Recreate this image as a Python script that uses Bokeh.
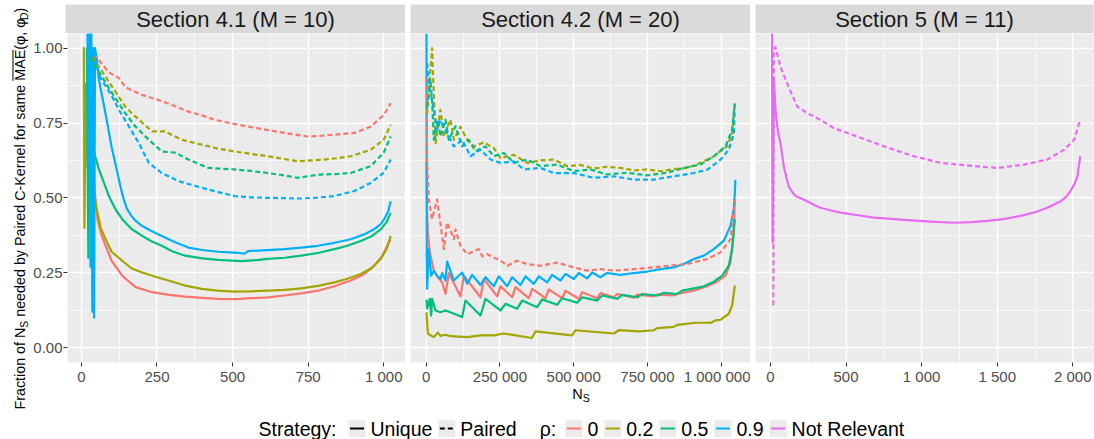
import math
from bokeh.plotting import figure
from bokeh.layouts import row, column
from bokeh.models import Range1d, FixedTicker, ColumnDataSource
from bokeh.core.properties import value
from bokeh.embed import file_html
from bokeh.resources import INLINE

# ------------------------------------------------------------------ data
rho_levels = ["0", "0.2", "0.5", "0.9", "Not Relevant"]
rho_colors = ["#F8766D", "#A3A500", "#00BF7D", "#00B0F6", "#E76BF3"]
strategies = ["Unique", "Paired"]
strategy_dash = ["solid", "5 3"]
section_titles = ["Section 4.1 (M = 10)", "Section 4.2 (M = 20)", "Section 5 (M = 11)"]

y_ticks = [0.0, 0.25, 0.5, 0.75, 1.0]
y_tick_labels = ["0.00", "0.25", "0.50", "0.75", "1.00"]

s41_ticks = [0, 250, 500, 750, 1000]
s41_tick_labels = ["0", "250", "500", "750", "1 000"]
s42_ticks = [0, 250000, 500000, 750000, 1000000]
s42_tick_labels = ["0", "250 000", "500 000", "750 000", "1 000 000"]
s5_ticks = [0, 500, 1000, 1500, 2000]
s5_tick_labels = ["0", "500", "1 000", "1 500", "2 000"]

# Section 4.1 (M = 10)
s41_unique_r0_x = [38, 46, 53, 65, 80, 100, 135, 179, 234, 290, 343, 400, 453, 510, 562, 617, 672, 727, 782, 837, 891, 935, 968, 995, 1017, 1023]
s41_unique_r0_y = [0.60, 0.50, 0.429, 0.38, 0.34, 0.29, 0.24, 0.202, 0.185, 0.176, 0.170, 0.166, 0.163, 0.162, 0.165, 0.168, 0.174, 0.181, 0.190, 0.205, 0.224, 0.245, 0.273, 0.305, 0.351, 0.362]
s41_unique_r02_x = [4, 8, 10, 14, 20, 28, 36, 44, 53, 64, 80, 100, 135, 165, 201, 250, 288, 340, 398, 450, 507, 560, 617, 672, 727, 782, 837, 880, 924, 960, 990, 1010, 1023]
s41_unique_r02_y = [1.0, 1.0, 0.40, 0.88, 0.60, 0.75, 0.52, 0.50, 0.451, 0.40, 0.362, 0.32, 0.29, 0.265, 0.251, 0.235, 0.224, 0.208, 0.196, 0.190, 0.187, 0.188, 0.190, 0.193, 0.198, 0.206, 0.218, 0.230, 0.246, 0.266, 0.296, 0.330, 0.373]
s41_unique_r05_x = [18, 23, 26, 30, 36, 58, 91, 96, 115, 135, 165, 201, 230, 266, 300, 343, 400, 453, 530, 580, 617, 672, 727, 782, 837, 880, 924, 960, 990, 1010, 1023]
s41_unique_r05_y = [1.0, 0.30, 1.0, 0.85, 0.672, 0.595, 0.506, 0.495, 0.458, 0.429, 0.397, 0.373, 0.356, 0.340, 0.322, 0.307, 0.298, 0.293, 0.289, 0.292, 0.296, 0.300, 0.307, 0.316, 0.329, 0.340, 0.356, 0.372, 0.395, 0.420, 0.450]
s41_unique_r09_x = [20, 24, 27, 30, 33, 36, 39, 42, 45, 50, 58, 80, 100, 120, 130, 140, 150, 165, 180, 201, 230, 266, 310, 354, 400, 453, 520, 540, 551, 600, 672, 727, 782, 837, 891, 935, 968, 990, 1001, 1015, 1023]
s41_unique_r09_y = [1.05, 0.60, 1.05, 0.27, 1.05, 0.12, 1.0, 0.10, 1.0, 0.97, 0.894, 0.78, 0.67, 0.58, 0.535, 0.495, 0.465, 0.440, 0.423, 0.406, 0.390, 0.373, 0.352, 0.334, 0.326, 0.320, 0.316, 0.314, 0.322, 0.325, 0.329, 0.334, 0.340, 0.350, 0.362, 0.378, 0.395, 0.412, 0.428, 0.455, 0.489]
s41_paired_r0_x = [40, 58, 90, 124, 145, 200, 255, 300, 354, 400, 441, 500, 574, 620, 672, 749, 800, 836, 903, 957, 1000, 1023]
s41_paired_r0_y = [0.98, 0.96, 0.92, 0.90, 0.87, 0.844, 0.827, 0.81, 0.788, 0.775, 0.761, 0.748, 0.734, 0.726, 0.717, 0.705, 0.708, 0.711, 0.717, 0.738, 0.777, 0.816]
s41_paired_r02_x = [35, 58, 102, 145, 178, 234, 277, 332, 398, 450, 507, 560, 617, 670, 716, 760, 803, 850, 891, 957, 1000, 1023]
s41_paired_r02_y = [0.97, 0.938, 0.871, 0.805, 0.772, 0.722, 0.722, 0.694, 0.678, 0.665, 0.655, 0.647, 0.639, 0.630, 0.622, 0.625, 0.628, 0.633, 0.639, 0.661, 0.694, 0.744]
s41_paired_r05_x = [30, 58, 102, 145, 178, 223, 266, 310, 354, 420, 507, 560, 617, 670, 716, 760, 790, 850, 891, 957, 1000, 1023]
s41_paired_r05_y = [0.97, 0.921, 0.849, 0.783, 0.739, 0.694, 0.655, 0.651, 0.628, 0.600, 0.595, 0.590, 0.583, 0.575, 0.567, 0.574, 0.578, 0.580, 0.583, 0.606, 0.651, 0.705]
s41_paired_r09_x = [20, 30, 45, 58, 102, 124, 157, 190, 223, 266, 321, 398, 450, 507, 560, 617, 672, 727, 780, 836, 903, 957, 1000, 1023]
s41_paired_r09_y = [1.0, 1.0, 0.97, 0.91, 0.838, 0.794, 0.739, 0.683, 0.617, 0.583, 0.556, 0.534, 0.520, 0.506, 0.502, 0.500, 0.499, 0.498, 0.501, 0.506, 0.523, 0.550, 0.584, 0.628]

# Section 4.2 (M = 20)
s42_unique_r0_x = [1000, 3000, 5500, 12300, 25900, 39400, 54100, 65400, 76700, 116300, 127600, 184100, 195400, 240600, 251900, 291400, 302700, 347900, 359200, 404400, 415700, 460900, 472200, 517400, 528700, 579600, 590800, 636000, 647400, 703800, 715100, 771600, 782900, 839400, 850800, 907200, 952400, 986300, 1014600, 1031500, 1042800, 1046200]
s42_unique_r0_y = [0.62, 0.45, 0.384, 0.318, 0.257, 0.235, 0.218, 0.179, 0.249, 0.171, 0.240, 0.168, 0.229, 0.171, 0.205, 0.168, 0.202, 0.165, 0.196, 0.165, 0.194, 0.165, 0.190, 0.163, 0.185, 0.165, 0.182, 0.168, 0.179, 0.167, 0.177, 0.171, 0.177, 0.174, 0.179, 0.190, 0.205, 0.220, 0.240, 0.285, 0.384, 0.495]
s42_unique_r02_x = [1000, 5500, 14600, 25900, 39400, 48500, 65400, 82400, 138900, 184100, 229300, 263200, 358100, 370600, 494800, 506100, 636000, 653000, 720800, 771600, 783000, 839400, 850800, 913900, 964700, 981600, 998600, 1025800, 1037100, 1046200]
s42_unique_r02_y = [0.118, 0.047, 0.041, 0.035, 0.050, 0.039, 0.043, 0.038, 0.035, 0.041, 0.041, 0.047, 0.032, 0.054, 0.041, 0.058, 0.047, 0.058, 0.054, 0.058, 0.065, 0.069, 0.076, 0.083, 0.083, 0.091, 0.093, 0.113, 0.141, 0.207]
s42_unique_r05_x = [1000, 3300, 12300, 16800, 20200, 31500, 48500, 65400, 82400, 121900, 133200, 184100, 201000, 251900, 268800, 308400, 325300, 376100, 393100, 444000, 460900, 511800, 528700, 579600, 596500, 647400, 664300, 715200, 732100, 783000, 805600, 850800, 867700, 907200, 941100, 975000, 1003200, 1025800, 1037100, 1042800, 1046200]
s42_unique_r05_y = [0.16, 0.130, 0.163, 0.107, 0.163, 0.124, 0.118, 0.124, 0.118, 0.102, 0.157, 0.107, 0.163, 0.124, 0.146, 0.130, 0.157, 0.135, 0.161, 0.143, 0.165, 0.150, 0.168, 0.157, 0.174, 0.163, 0.176, 0.168, 0.179, 0.174, 0.183, 0.179, 0.190, 0.198, 0.205, 0.220, 0.240, 0.274, 0.329, 0.395, 0.429]
s42_unique_r09_x = [1000, 2000, 3300, 8900, 16800, 25900, 37200, 48500, 54100, 65400, 71100, 93700, 121900, 138900, 155800, 184100, 201000, 229300, 246200, 274500, 291400, 319700, 336600, 364900, 381800, 410100, 427000, 455300, 472200, 500500, 517400, 545600, 562600, 590800, 613400, 658600, 703800, 749000, 794200, 839400, 873300, 907200, 941100, 975000, 1008900, 1031500, 1042800, 1046200, 1048000]
s42_unique_r09_y = [1.05, 0.30, 0.196, 0.329, 0.240, 0.257, 0.240, 0.229, 0.249, 0.224, 0.287, 0.224, 0.251, 0.213, 0.243, 0.209, 0.235, 0.205, 0.238, 0.205, 0.235, 0.209, 0.238, 0.213, 0.238, 0.218, 0.243, 0.224, 0.246, 0.229, 0.249, 0.231, 0.251, 0.235, 0.249, 0.243, 0.249, 0.254, 0.262, 0.268, 0.279, 0.296, 0.307, 0.329, 0.357, 0.406, 0.462, 0.517, 0.56]
s42_paired_r0_x = [1000, 3000, 9000, 20000, 37000, 60000, 71000, 94000, 99000, 116000, 139000, 178000, 190000, 207000, 229000, 252000, 275000, 308000, 342000, 387000, 444000, 500000, 546000, 591000, 636000, 704000, 772000, 817000, 885000, 953000, 998000, 1032000, 1046000]
s42_paired_r0_y = [0.90, 0.62, 0.495, 0.429, 0.495, 0.329, 0.418, 0.362, 0.395, 0.340, 0.312, 0.329, 0.305, 0.312, 0.301, 0.290, 0.273, 0.290, 0.279, 0.273, 0.284, 0.268, 0.257, 0.262, 0.257, 0.262, 0.268, 0.273, 0.279, 0.296, 0.318, 0.362, 0.495]
s42_paired_r02_x = [3000, 9000, 20000, 32000, 48000, 60000, 82000, 94000, 116000, 139000, 161000, 195000, 229000, 252000, 297000, 342000, 387000, 433000, 478000, 523000, 568000, 613000, 659000, 704000, 749000, 795000, 840000, 885000, 930000, 975000, 1020000, 1037000, 1046000]
s42_paired_r02_y = [0.78, 0.86, 1.0, 0.683, 0.794, 0.705, 0.761, 0.694, 0.738, 0.694, 0.672, 0.685, 0.667, 0.633, 0.644, 0.617, 0.625, 0.628, 0.606, 0.610, 0.598, 0.604, 0.600, 0.592, 0.595, 0.589, 0.596, 0.600, 0.617, 0.639, 0.672, 0.716, 0.816]
s42_paired_r05_x = [3000, 14600, 20200, 25900, 39400, 48500, 65400, 76700, 99300, 121900, 144500, 167100, 201000, 229300, 263200, 297100, 342300, 387500, 444000, 500500, 557000, 613400, 681200, 749000, 816800, 873300, 929800, 975000, 1014600, 1037100, 1046200]
s42_paired_r05_y = [0.80, 0.896, 0.818, 0.694, 0.761, 0.705, 0.761, 0.694, 0.739, 0.672, 0.694, 0.656, 0.672, 0.639, 0.650, 0.617, 0.628, 0.606, 0.611, 0.589, 0.595, 0.578, 0.584, 0.575, 0.584, 0.600, 0.611, 0.639, 0.672, 0.728, 0.816]
s42_paired_r09_x = [3000, 9000, 26000, 37000, 48000, 71000, 94000, 122000, 150000, 184000, 218000, 252000, 297000, 331000, 387000, 433000, 500000, 568000, 636000, 704000, 772000, 839000, 907000, 953000, 998000, 1026000, 1043000, 1046000]
s42_paired_r09_y = [0.95, 0.883, 0.794, 0.728, 0.760, 0.716, 0.672, 0.694, 0.639, 0.661, 0.628, 0.617, 0.622, 0.595, 0.600, 0.583, 0.583, 0.567, 0.572, 0.561, 0.561, 0.572, 0.583, 0.594, 0.628, 0.661, 0.717, 0.800]

# Section 5 (M = 11)
s5_unique_x = [10, 14, 22, 35, 50, 66, 88, 105, 121, 140, 166, 200, 243, 290, 331, 400, 464, 580, 684, 800, 905, 1060, 1214, 1330, 1435, 1550, 1656, 1750, 1832, 1921, 1960, 1987, 2015, 2031, 2049]
s5_unique_y = [1.05, 0.35, 0.90, 0.78, 0.72, 0.683, 0.606, 0.568, 0.539, 0.522, 0.506, 0.499, 0.489, 0.476, 0.467, 0.458, 0.451, 0.442, 0.434, 0.430, 0.426, 0.421, 0.417, 0.419, 0.423, 0.430, 0.440, 0.452, 0.467, 0.489, 0.505, 0.525, 0.550, 0.573, 0.639]
s5_paired_x = [19, 22, 33, 66, 110, 177, 243, 331, 419, 574, 751, 949, 1126, 1347, 1501, 1678, 1832, 1943, 2009, 2049]
s5_paired_y = [0.141, 0.993, 1.004, 0.938, 0.883, 0.805, 0.783, 0.761, 0.733, 0.705, 0.672, 0.639, 0.617, 0.606, 0.600, 0.611, 0.628, 0.661, 0.694, 0.761]

# (rho, strategy, x, y) per facet
s41_series = [
    ("0", "Unique", s41_unique_r0_x, s41_unique_r0_y),
    ("0.2", "Unique", s41_unique_r02_x, s41_unique_r02_y),
    ("0.5", "Unique", s41_unique_r05_x, s41_unique_r05_y),
    ("0.9", "Unique", s41_unique_r09_x, s41_unique_r09_y),
    ("0", "Paired", s41_paired_r0_x, s41_paired_r0_y),
    ("0.2", "Paired", s41_paired_r02_x, s41_paired_r02_y),
    ("0.5", "Paired", s41_paired_r05_x, s41_paired_r05_y),
    ("0.9", "Paired", s41_paired_r09_x, s41_paired_r09_y),
]
s42_series = [
    ("0", "Unique", s42_unique_r0_x, s42_unique_r0_y),
    ("0.2", "Unique", s42_unique_r02_x, s42_unique_r02_y),
    ("0.5", "Unique", s42_unique_r05_x, s42_unique_r05_y),
    ("0.9", "Unique", s42_unique_r09_x, s42_unique_r09_y),
    ("0", "Paired", s42_paired_r0_x, s42_paired_r0_y),
    ("0.2", "Paired", s42_paired_r02_x, s42_paired_r02_y),
    ("0.5", "Paired", s42_paired_r05_x, s42_paired_r05_y),
    ("0.9", "Paired", s42_paired_r09_x, s42_paired_r09_y),
]
s5_series = [
    ("Not Relevant", "Unique", s5_unique_x, s5_unique_y),
    ("Not Relevant", "Paired", s5_paired_x, s5_paired_y),
]

# ------------------------------------------------------------------ style
FONT = "Liberation Sans"
PANEL_BG = "#EBEBEB"
STRIP_BG = "#D9D9D9"
TICK_TEXT = "#4D4D4D"
Y_RANGE = (-0.0498, 1.049)
LINE_W = 2.2
TOTAL_W, TOTAL_H = 1094, 439
TITLE_W = 30  # column holding the rotated y title
CAP = 0.358   # cap-centre height above the baseline, in em
NBSP = "\u00a0"

# Arial-compatible advance widths (1/1000 em) for laying out composed labels
ADV = {" ": 278, NBSP: 278, "F": 611, "r": 333, "a": 556, "c": 500, "t": 278, "i": 222,
       "o": 556, "n": 556, "f": 278, "N": 722, "S": 667, "e": 556, "d": 556, "b": 556,
       "y": 500, "P": 667, "C": 722, "-": 333, "K": 667, "l": 222, "s": 500, "m": 833,
       "M": 833, "A": 667, "E": 667, "(": 333, ")": 333, ",": 278, "φ": 600, "D": 722,
       "U": 722, "q": 556, "u": 556, "g": 556, ":": 278, "ρ": 580, ".": 278, "R": 722,
       "v": 500}


def text_w(s, size):
    return sum(ADV.get(ch, 556) for ch in s) * size / 1000.0


color_of = dict(zip(rho_levels, rho_colors))
dash_of = dict(zip(strategies, strategy_dash))


def make_panel(width, left, right, x_range, ticks, tick_labels, series, with_y_axis):
    p = figure(width=width, height=354, x_range=Range1d(*x_range), y_range=Range1d(*Y_RANGE),
               output_backend="svg", toolbar_location=None,
               y_axis_location="left" if with_y_axis else None,
               min_border_left=left, min_border_right=right, min_border_top=0, min_border_bottom=23,
               background_fill_color=PANEL_BG, border_fill_color="white", outline_line_color=None)
    minor = [(a + b) / 2 for a, b in zip(ticks[:-1], ticks[1:])]
    p.xaxis.ticker = FixedTicker(ticks=ticks, minor_ticks=minor)
    p.xaxis.major_label_overrides = dict(zip(ticks, tick_labels))
    y_minor = [(a + b) / 2 for a, b in zip(y_ticks[:-1], y_ticks[1:])]
    yticker = FixedTicker(ticks=y_ticks, minor_ticks=y_minor)
    if with_y_axis:
        p.yaxis.ticker = yticker
        p.yaxis.major_label_overrides = dict(zip(y_ticks, y_tick_labels))
    else:
        p.ygrid[0].ticker = yticker
    for ax in p.axis:
        ax.axis_line_color = None
        ax.major_tick_line_color = "#333333"
        ax.major_tick_line_width = 1
        ax.major_tick_out = 4
        ax.major_tick_in = 0
        ax.minor_tick_line_color = None
        ax.major_label_standoff = 1
        ax.major_label_text_font = FONT
        ax.major_label_text_font_size = "15px"
        ax.major_label_text_color = TICK_TEXT
    for g in p.grid:
        g.grid_line_color = "white"
        g.grid_line_width = 1.4
        g.minor_grid_line_color = "white"
        g.minor_grid_line_width = 0.7
    for rho, strat, xs, ys in series:
        p.line(xs, ys, line_color=color_of[rho], line_width=LINE_W,
               line_dash=dash_of[strat], line_join="round")
    return p


def make_strip(width, left, right, label):
    s = figure(width=width, height=33, x_range=Range1d(0, 1), y_range=Range1d(0, 1),
               output_backend="svg", toolbar_location=None,
               x_axis_location=None, y_axis_location=None,
               min_border_left=left, min_border_right=right, min_border_top=4, min_border_bottom=0,
               background_fill_color=STRIP_BG, border_fill_color="white", outline_line_color=None)
    s.grid.visible = False
    s.text(x=[0.5], y=[0.47], text=[label], text_align="center", text_baseline="middle",
           text_font=value(FONT), text_font_size=value("22px"), text_color="#1A1A1A")
    return s


def blank(width, height, xr, yr):
    b = figure(width=width, height=height, x_range=Range1d(*xr), y_range=Range1d(*yr),
               output_backend="svg", toolbar_location=None,
               x_axis_location=None, y_axis_location=None,
               min_border_left=0, min_border_right=0, min_border_top=0, min_border_bottom=0,
               background_fill_color="white", border_fill_color="white", outline_line_color=None)
    b.grid.visible = False
    return b


# ------------------------------------------------------------------ facets
w1 = 405 - TITLE_W
p1 = make_panel(w1, 65 - TITLE_W, 0, (-46, 1072), s41_ticks, s41_tick_labels, s41_series, True)
p2 = make_panel(345, 5, 0, (-53200, 1099300), s42_ticks, s42_tick_labels, s42_series, False)
p3 = make_panel(344, 5, 1, (-99, 2137), s5_ticks, s5_tick_labels, s5_series, False)

st1 = make_strip(w1, 65 - TITLE_W, 0, section_titles[0])
st2 = make_strip(345, 5, 0, section_titles[1])
st3 = make_strip(344, 5, 1, section_titles[2])

# ------------------------------------------------------------------ y-axis title (rotated, composed)
# data coordinates of this column: x = page x, y = 439 - page y
yt = blank(TITLE_W, TOTAL_H, (0, TITLE_W), (0, TOTAL_H))
base, small = 14.3, 10.3
xb = 24.5           # baseline of the rotated title
pieces = [("Fraction of N", base, 0.0), ("S", small, 3.0),
          (NBSP + "needed by Paired C-Kernel for same" + NBSP, base, 0.0), ("MAE", base, 0.0),
          ("(φ," + NBSP + "φ", base, 0.0), ("D", small, 3.0), (")", base, 0.0)]
pos = 409.0  # page y where the title starts (it reads upwards)
tx, ty, tt, ts = [], [], [], []
over = None
for txt, size, shift in pieces:
    tx.append(xb + shift - CAP * size)
    ty.append(TOTAL_H - pos)
    tt.append(txt)
    ts.append("%gpx" % size)
    w = text_w(txt, size)
    if txt == "MAE":
        over = (TOTAL_H - pos, TOTAL_H - (pos - w))
    pos -= w
yt.text(x="x", y="y", text="t", source=ColumnDataSource(dict(x=tx, y=ty, t=tt, s=ts)),
        angle=math.pi / 2, text_font=value(FONT), text_font_size="s", text_color="black",
        text_align="left", text_baseline="middle")
ox = xb - base * 0.716 - 1.8
yt.segment(x0=[ox], y0=[over[0]], x1=[ox], y1=[over[1]], line_color="black", line_width=1)

# ------------------------------------------------------------------ x title + legend
# data coordinates of this strip: x = page x, y = 439 - page y
bt = blank(TOTAL_W - TITLE_W, 52, (TITLE_W, TOTAL_W), (0, 52))
n_size, sub_size = 14.5, 10.5
nx = 571.7
bt.text(x=[nx, nx + text_w("N", n_size)],
        y=[TOTAL_H - 398.3 + CAP * n_size, TOTAL_H - 401.5 + CAP * sub_size],
        text=["N", "S"], text_font=value(FONT),
        text_font_size=["%gpx" % n_size, "%gpx" % sub_size], text_color="black",
        text_align="left", text_baseline="middle")

LEG = 19.5
key_w = 17
text_mid = TOTAL_H - 435 + CAP * LEG
key_lo, key_hi = TOTAL_H - 436.5, TOTAL_H - 419.5
key_mid = (key_lo + key_hi) / 2
lab_x, lab_t = [], []
kx, kcol, kdash = [], [], []

x = 258.0
lab_x.append(x); lab_t.append("Strategy:")
x += text_w("Strategy:", LEG) + 12
for strat in strategies:
    kx.append(x); kcol.append("black"); kdash.append(dash_of[strat])
    x += key_w + 5
    lab_x.append(x); lab_t.append(strat)
    x += text_w(strat, LEG) + 6
x += 17
lab_x.append(x); lab_t.append("ρ:")
x += text_w("ρ:", LEG) + 9
for rho, col in zip(rho_levels, rho_colors):
    kx.append(x); kcol.append(col); kdash.append("solid")
    x += key_w + 5
    lab_x.append(x); lab_t.append(rho)
    x += text_w(rho, LEG) + 6

bt.quad(left=kx, right=[k + key_w for k in kx], bottom=key_lo, top=key_hi,
        fill_color="#EBEBEB", line_color=None)
for k, c, d in zip(kx, kcol, kdash):
    bt.line([k + 1.5, k + key_w - 1.5], [key_mid, key_mid], line_color=c, line_width=LINE_W,
            line_dash=d)
bt.text(x=lab_x, y=[text_mid] * len(lab_x), text=lab_t, text_font=value(FONT),
        text_font_size=value("%gpx" % LEG), text_color="black", text_align="left",
        text_baseline="middle")

# ------------------------------------------------------------------ layout
facets = column(row(st1, st2, st3), row(p1, p2, p3), bt)
layout = row(yt, facets)

open("out.html", "w").write(file_html(layout, INLINE))
